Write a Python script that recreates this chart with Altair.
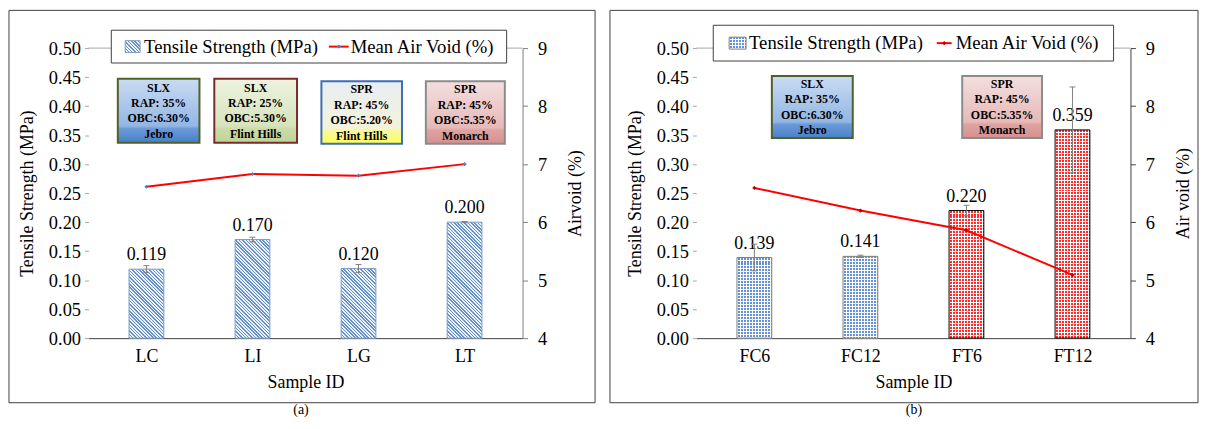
import altair as alt
import pandas as pd

FONT = "Liberation Serif"
TXT = "#000000"

# ---------------- data: panel (a)
a_ids = ["LC", "LI", "LG", "LT"]
a_ts = [0.119, 0.170, 0.120, 0.200]
a_err = [0.006, 0.004, 0.007, 0.001]
a_av = [6.61, 6.83, 6.80, 7.00]
a_grp = ["L", "L", "L", "L"]
a_box_text = ["SLX\nRAP: 35%\nOBC:6.30%\nJebro",
              "SLX\nRAP: 25%\nOBC:5.30%\nFlint Hills",
              "SPR\nRAP: 45%\nOBC:5.20%\nFlint Hills",
              "SPR\nRAP: 45%\nOBC:5.35%\nMonarch"]

# ---------------- data: panel (b)
b_ids = ["FC6", "FC12", "FT6", "FT12"]
b_ts = [0.139, 0.141, 0.220, 0.359]
b_err = [0.023, 0.002, 0.009, 0.074]
b_av = [6.59, 6.20, 5.86, 5.09]
b_grp = ["SLX", "SLX", "SPR", "SPR"]
b_box_text = ["SLX\nRAP: 35%\nOBC:6.30%\nJebro",
              "SPR\nRAP: 45%\nOBC:5.35%\nMonarch"]

# ---------------- layout / styles
W, H = 437, 292
BAR_W = 35
a_box_x = [(-0.27, 0.50), (0.64, 1.42), (1.65, 2.41), (2.635, 3.38)]
a_box_y = [(0.337, 0.447), (0.337, 0.447), (0.335, 0.443), (0.335, 0.443)]
b_box_x = [(0.165, 0.928), (1.96, 2.713)]
b_box_y = [(0.345, 0.452), (0.345, 0.452)]

STYLE_BLUE = ([(0, "#cadbf3"), (0.74, "#93b6e3"), (0.78, "#6b9ad8"), (1, "#4a7fc9")], "#4f6228")
STYLE_GREEN = ([(0, "#edf3e0"), (0.74, "#d6e3bc"), (0.78, "#cbdba9"), (1, "#bfd398")], "#7b2c2a")
STYLE_YELLOW = ([(0, "#e9edf2"), (0.74, "#f2f3dc"), (0.78, "#f7f7a8"), (1, "#ffff55")], "#3e6fb5")
STYLE_PINK = ([(0, "#f4dfdf"), (0.74, "#e6b9b8"), (0.78, "#dea3a1"), (1, "#d6908e")], "#8c8c8c")

HATCH_FG, HATCH_BG = "#6690cb", "#eef3fa"
CLEAR = "rgba(255,255,255,0)"


def grad(stops):
    return alt.LinearGradient(
        gradient="linear",
        stops=[alt.GradientStop(color=c, offset=o) for o, c in stops],
        x1=0, x2=0, y1=0, y2=1,
    )


def hard_stops(dt, duty, fg, bg, tmax):
    stops = []
    k = 0
    while k * dt <= min(tmax + dt, 1.0):
        t0 = k * dt
        t1 = min(t0 + duty * dt, 1.0)
        stops += [(t0, bg), (t0, fg), (t1, fg), (t1, bg)]
        k += 1
    return [alt.GradientStop(color=c, offset=round(o, 5)) for o, c in stops]


def diag(w, h, period, duty, fg, bg):
    """Diagonal (\\) stripes built from a hard-stop linear gradient (bbox units)."""
    L = w + h * h / w
    return alt.LinearGradient(gradient="linear",
                              stops=hard_stops(period / L, duty, fg, bg, (w + h) / L),
                              x1=0, y1=1, x2=1, y2=1 - h / w)


def straight(length, period, duty, fg, bg, vertical_lines):
    """Axis-aligned stripes; vertical_lines=True -> stripes vary along x."""
    if vertical_lines:
        x1, y1, x2, y2 = 0, 0, 1, 0
    else:
        x1, y1, x2, y2 = 0, 0, 0, 1
    return alt.LinearGradient(gradient="linear",
                              stops=hard_stops(period / length, duty, fg, bg, 1.0),
                              x1=x1, y1=y1, x2=x2, y2=y2)


def make_panel(ids, ts, err, av, grp, fills, strokes, box_texts, box_x, box_y,
               box_styles, leg, border_x, tag, tag_x, right_title, right_dom, pt_color,
               striped):
    df = pd.DataFrame({"pos": list(range(len(ids))), "id": ids, "ts": ts, "av": av, "grp": grp})
    df["lo"] = [t - e for t, e in zip(ts, err)]
    df["hi"] = [t + e for t, e in zip(ts, err)]
    df["cl"] = df["pos"] - 0.028
    df["cr"] = df["pos"] + 0.028

    labels_js = "[" + ",".join("'%s'" % s for s in ids) + "]"
    xs = alt.Scale(domain=[-0.5, 3.5], nice=False, zero=False)
    xax = alt.Axis(values=[0, 1, 2, 3], labelExpr=labels_js + "[datum.value]", ticks=False,
                   grid=False, domainColor="#404040", labelFont=FONT, labelFontSize=18,
                   labelColor=TXT, labelPadding=10, labelFlush=False, labelOverlap=False,
                   title="Sample ID", titleFont=FONT, titleFontSize=18,
                   titleFontWeight="normal", titleColor=TXT, titleY=45,
                   titleBaseline="middle")
    ys = alt.Scale(domain=[0, 0.5], nice=False, zero=False)
    yax = alt.Axis(values=[round(0.05 * i, 2) for i in range(11)], format=".2f", orient="left",
                   domain=False, grid=False, tickSize=4, tickColor="#a6a6a6", labelPadding=4,
                   labelFont=FONT, labelFontSize=18.5, labelColor=TXT,
                   title="Tensile Strength (MPa)", titleFont=FONT, titleFontSize=18,
                   titleFontWeight="normal", titleColor=TXT, titleX=-61, titleY=H / 2,
                   titleAngle=-90, titleBaseline="middle", titleAlign="center")
    y2s = alt.Scale(domain=[4, 9], nice=False, zero=False)
    y2ax = alt.Axis(values=[4, 5, 6, 7, 8, 9], orient="right", domainColor=right_dom,
                    grid=False, tickSize=5, tickColor=right_dom, labelPadding=10,
                    labelFont=FONT, labelFontSize=18.5, labelColor=TXT, title=right_title,
                    titleFont=FONT, titleFontSize=18, titleFontWeight="normal",
                    titleColor=TXT, titleX=53, titleY=H / 2, titleAngle=-90,
                    titleBaseline="middle", titleAlign="center")

    def X(f):
        return alt.X(f, type="quantitative", scale=xs, axis=xax)

    def Y(f):
        return alt.Y(f, type="quantitative", scale=ys, axis=yax)

    def Y2(f):
        return alt.Y(f, type="quantitative", scale=y2s, axis=y2ax)

    def bar_fills(w, h, i):
        """List of (fill, stroke) layers for one bar / icon."""
        if striped:
            return [(diag(w, h, 3.4, 0.45, HATCH_FG, HATCH_BG), strokes[i])]
        return [
            (straight(h, 3.0, 0.67, fills[i], "#ffffff", False), None),
            (straight(w, 3.0, 0.34, "#ffffff", CLEAR, True), strokes[i]),
        ]

    one = pd.DataFrame({"d": [0]})
    layers = []
    # panel border and tag
    layers.append(alt.Chart(one).mark_rect(fill="white", fillOpacity=0, stroke="#404040",
                                           strokeWidth=1).encode(
        x=alt.value(border_x[0]), x2=alt.value(border_x[1]), y=alt.value(-38),
        y2=alt.value(357)))
    layers.append(alt.Chart(one).mark_text(font=FONT, fontSize=14, color=TXT,
                                           text=tag).encode(
        x=alt.value(tag_x), y=alt.value(364)))
    # top plot-area line
    layers.append(alt.Chart(pd.DataFrame({"v": [0.5]})).mark_rule(
        color="#a6a6a6", strokeWidth=1).encode(y=Y("v"), x=alt.value(0), x2=alt.value(W)))
    # bars (patterned fills, one layer stack per bar)
    for i in range(len(ids)):
        h = ts[i] / 0.5 * H
        for fill, stroke in bar_fills(BAR_W, h, i):
            kw = {"stroke": stroke, "strokeWidth": 1} if stroke else {"strokeWidth": 0}
            layers.append(alt.Chart(df.iloc[[i]]).mark_bar(
                size=BAR_W, fill=fill, **kw).encode(x=X("pos"), y=Y("ts")))
    # value labels
    layers.append(alt.Chart(df).mark_text(dy=-14, font=FONT, fontSize=18, color=TXT,
                                          baseline="middle").encode(
        x=X("pos"), y=Y("ts"), text=alt.Text("ts:Q", format=".3f")))
    # error bars
    layers.append(alt.Chart(df).mark_rule(color="#808080", strokeWidth=1).encode(
        x=X("pos"), y=Y("lo"), y2="hi"))
    layers.append(alt.Chart(df).mark_rule(color="#808080", strokeWidth=1).encode(
        x=X("cl"), x2="cr", y=Y("hi")))
    layers.append(alt.Chart(df).mark_rule(color="#808080", strokeWidth=1).encode(
        x=X("cl"), x2="cr", y=Y("lo")))
    # annotation boxes
    for (x0, x1), (y0, y1), (stops, bc) in zip(box_x, box_y, box_styles):
        bd = pd.DataFrame({"x0": [x0], "x1": [x1], "y0": [y0], "y1": [y1]})
        layers.append(alt.Chart(bd).mark_rect(fill=grad(stops), stroke=bc,
                                              strokeWidth=2).encode(
            x=X("x0"), x2="x1", y=Y("y0"), y2="y1"))
    bt = pd.DataFrame({
        "xc": [(a + b) / 2 for a, b in box_x],
        "yc": [(a + b) / 2 for a, b in box_y],
        "txt": box_texts,
    })
    layers.append(alt.Chart(bt).mark_text(font=FONT, fontSize=12, fontWeight="bold",
                                          color=TXT, lineBreak="\n", lineHeight=15.5,
                                          baseline="middle", dy=-23.25).encode(
        x=X("xc"), y=Y("yc"), text="txt:N"))
    # legend
    lx0, lx1, ly0, ly1, ix0, ix1, tx1, sx0, sx1, tx2 = leg
    lyc = (ly0 + ly1) / 2
    layers.append(alt.Chart(one).mark_rect(fill="white", stroke="#404040",
                                           strokeWidth=1).encode(
        x=alt.value(lx0), x2=alt.value(lx1), y=alt.value(ly0), y2=alt.value(ly1)))
    for fill, stroke in bar_fills(ix1 - ix0, 12, 0):
        kw = {"stroke": stroke, "strokeWidth": 1} if stroke else {"strokeWidth": 0}
        layers.append(alt.Chart(one).mark_rect(fill=fill, **kw).encode(
            x=alt.value(ix0), x2=alt.value(ix1), y=alt.value(lyc - 6),
            y2=alt.value(lyc + 6)))
    layers.append(alt.Chart(one).mark_text(font=FONT, fontSize=18.8, color=TXT, align="left",
                                           baseline="middle",
                                           text="Tensile Strength (MPa)").encode(
        x=alt.value(tx1), y=alt.value(lyc)))
    layers.append(alt.Chart(one).mark_rule(color="#ff0000", strokeWidth=2).encode(
        x=alt.value(sx0), x2=alt.value(sx1), y=alt.value(lyc)))
    layers.append(alt.Chart(one).mark_point(shape="diamond", filled=True, size=18,
                                            color=pt_color, opacity=1).encode(
        x=alt.value((sx0 + sx1) / 2), y=alt.value(lyc)))
    layers.append(alt.Chart(one).mark_text(font=FONT, fontSize=18.8, color=TXT, align="left",
                                           baseline="middle",
                                           text="Mean Air Void (%)").encode(
        x=alt.value(tx2), y=alt.value(lyc)))

    left = alt.layer(*layers)
    right = alt.layer(
        alt.Chart(df).mark_line(color="#ff0000", strokeWidth=2).encode(x=X("pos"), y=Y2("av")),
        alt.Chart(df).mark_point(shape="diamond", filled=True, size=18, color=pt_color,
                                 opacity=1).encode(x=X("pos"), y=Y2("av")),
    )
    return alt.layer(left, right).resolve_scale(y="independent").properties(width=W, height=H)


pa = make_panel(a_ids, a_ts, a_err, a_av, a_grp, ["#a9c0e0"] * 4, ["#7c9cc4"] * 4,
                a_box_text, a_box_x, a_box_y, [STYLE_BLUE, STYLE_GREEN, STYLE_YELLOW, STYLE_PINK],
                (23, 421, -18, 15, 37, 52, 56, 242, 262, 264), (-80, 510), "(a)", 214,
                "Airvoid (%)", "#7f7f7f", "#4f81bd", True)
pb = make_panel(b_ids, b_ts, b_err, b_av, b_grp,
                ["#6592d6", "#6592d6", "#ff2a2a", "#ff2a2a"],
                ["#7f7f7f", "#7f7f7f", "#000000", "#000000"],
                b_box_text, b_box_x, b_box_y, [STYLE_BLUE, STYLE_PINK],
                (17, 420, -23, 13, 33, 50, 53, 242, 257, 261), (-87, 505), "(b)", 219,
                "Air void (%)", "#404040", "#c00000", False)

chart = (
    alt.hconcat(pa, pb, spacing=13)
    .properties(padding=0)
    .configure(font=FONT)
    .configure_axis(labelFont=FONT, titleFont=FONT)
    .configure_text(font=FONT)
    .configure_view(stroke=None)
)
chart.save("out.html", embed_options={"renderer": "svg", "actions": False})
